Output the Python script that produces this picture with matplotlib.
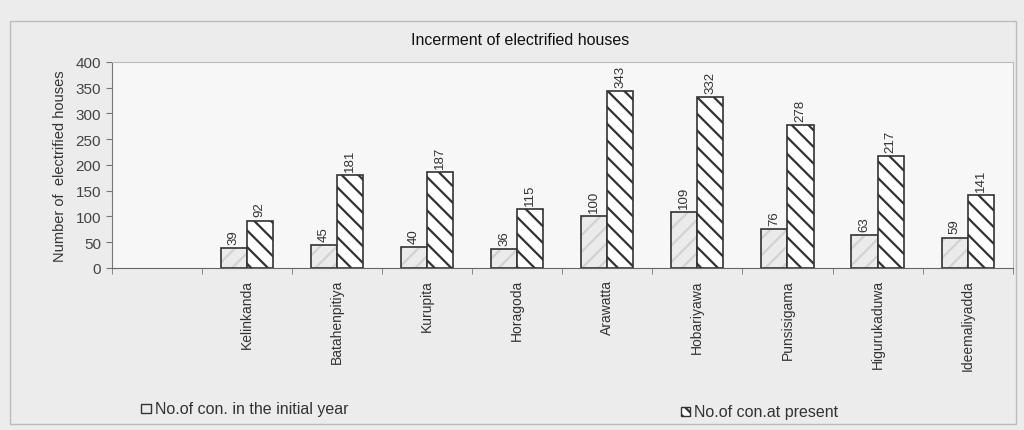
import matplotlib
matplotlib.use('Agg')
import matplotlib.pyplot as plt
import numpy as np

plt.rcParams['font.family'] = ['Liberation Sans', 'DejaVu Sans']
plt.rcParams['hatch.linewidth'] = 1.6

# first slot is empty in the original chart
places = ['', 'Kelinkanda', 'Batahenpitiya', 'Kurupita', 'Horagoda', 'Arawatta',
          'Hobariyawa', 'Punsisigama', 'Higurukaduwa', 'Ideemaliyadda']
initial_year = [None, 39, 45, 40, 36, 100, 109, 76, 63, 59]
at_present = [None, 92, 181, 187, 115, 343, 332, 278, 217, 141]
yticks = [0, 50, 100, 150, 200, 250, 300, 350, 400]

fig = plt.figure(figsize=(10.24, 4.31), dpi=100)
fig.patch.set_facecolor('#ececec')
ax = fig.add_axes([0.109, 0.376, 0.880, 0.478])
ax.set_facecolor('#f7f7f7')

x = np.arange(len(places))
w = 0.29
for i in range(len(places)):
    if initial_year[i] is None:
        continue
    # light bar: faint hatch first, then dark outline on top
    ax.bar(x[i] - w/2, initial_year[i], w, color='#ebebeb', edgecolor='#d2d2d2',
           hatch='//', linewidth=0)
    ax.bar(x[i] - w/2, initial_year[i], w, fill=False, edgecolor='#333333', linewidth=1.2)
    ax.bar(x[i] + w/2, at_present[i], w, color='white', edgecolor='#333333',
           hatch='\\\\', linewidth=1.2)
    ax.text(x[i] - w/2, initial_year[i] + 8, str(initial_year[i]), rotation=90,
            ha='center', va='bottom', fontsize=9.5, color='#333333')
    ax.text(x[i] + w/2, at_present[i] + 8, str(at_present[i]), rotation=90,
            ha='center', va='bottom', fontsize=9.5, color='#333333')

ax.set_xlim(-0.5, len(places) - 0.5)
ax.set_ylim(0, 400)
ax.set_yticks(yticks)
ax.set_yticklabels([str(t) for t in yticks], fontsize=11, color='#444444')
ax.set_xticks(np.arange(len(places) + 1) - 0.5, minor=True)
ax.set_xticks(x)
ax.set_xticklabels(places, rotation=90, fontsize=10, color='#333333', va='top')
ax.tick_params(axis='x', which='major', length=0, pad=8)
ax.tick_params(axis='x', which='minor', length=4, color='#777777')
ax.tick_params(axis='y', length=4, color='#777777')
ax.spines['top'].set_color('#bbbbbb')
ax.spines['right'].set_color('#bbbbbb')
ax.spines['left'].set_color('#777777')
ax.spines['bottom'].set_color('#666666')
ax.set_ylabel('Number of  electrified houses', fontsize=10.5, color='#333333', labelpad=6)

fig.text(0.508, 0.905, 'Incerment of electrified houses', ha='center', va='center',
         fontsize=11.5, color='#111111')

# legend
fig.patches.append(plt.Rectangle((0.138, 0.040), 0.009, 0.021, transform=fig.transFigure,
                                 facecolor='#ebebeb', edgecolor='#333333', linewidth=1))
fig.text(0.151, 0.051, 'No.of con. in the initial year', fontsize=11.5, va='center', color='#333333')
fig.patches.append(plt.Rectangle((0.665, 0.032), 0.009, 0.021, transform=fig.transFigure,
                                 facecolor='white', edgecolor='#333333', hatch='\\\\\\',
                                 linewidth=1))
fig.text(0.678, 0.043, 'No.of con.at present', fontsize=11.5, va='center', color='#333333')

fig.patches.append(plt.Rectangle((0.010, 0.015), 0.982, 0.935, transform=fig.transFigure,
                                 facecolor='none', edgecolor='#bbbbbb', linewidth=1))

fig.savefig('out.png', dpi=100, facecolor=fig.get_facecolor())
